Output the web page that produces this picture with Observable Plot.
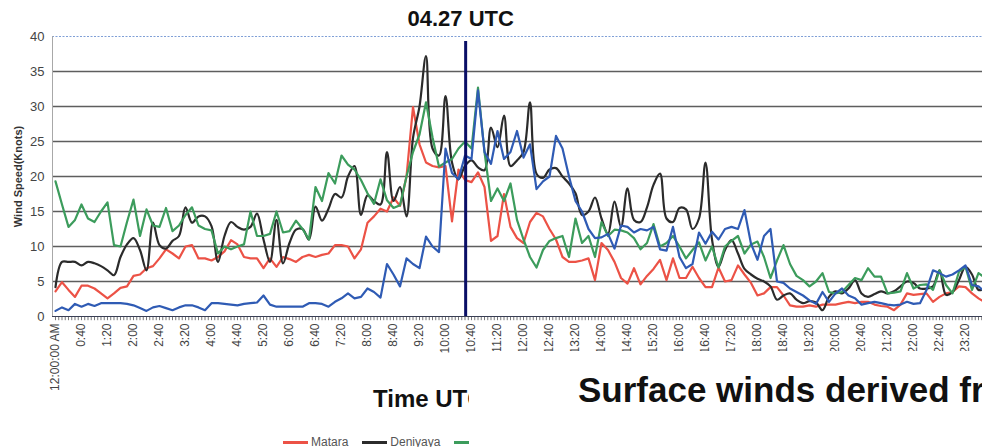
<!DOCTYPE html>
<html><head><meta charset="utf-8">
<script src="https://cdn.jsdelivr.net/npm/d3@7"></script>
<script src="https://cdn.jsdelivr.net/npm/@observablehq/plot@0.6"></script>
<style>
body{margin:0;background:#fff;overflow:hidden;}
#wrap{position:relative;width:982px;height:447px;overflow:hidden;background:#fff;font-family:"Liberation Sans",Arial,sans-serif;}
#chart{position:absolute;left:0;top:0;}
#chart g[aria-label="y-axis label"] text{font-weight:bold;font-size:11px;fill:#333;}
#chart g[aria-label="y-axis tick label"] text{font-size:13px;}
#xtitle{position:absolute;left:373px;top:387px;font-size:24px;line-height:24px;font-weight:bold;color:#111;white-space:nowrap;}
#legend{position:absolute;left:283px;top:435px;font-size:12px;line-height:14px;color:#555;white-space:nowrap;}
#legend span.sw{display:inline-block;width:25px;height:3px;vertical-align:middle;margin-right:3px;}
#legend span.it{margin-right:14px;}
#mask{position:absolute;left:469px;top:351px;width:520px;height:100px;background:#fff;}
#caption{position:absolute;left:578px;top:372px;font-size:35px;line-height:35px;font-weight:bold;color:#111;white-space:nowrap;}
</style></head><body>
<div id="wrap">
  <div id="chart"></div>
  <div id="xtitle">Time UTC</div>
  <div id="legend"></div>
  <div id="mask"></div>
  <div id="caption">Surface winds derived fr</div>
</div>
<script>
// x-axis category labels (every 40 minutes)
const tickLabels = ["12:00:00 AM","0:40","1:20","2:00","2:40","3:20","4:00","4:40","5:20","6:00","6:40","7:20","8:00","8:40","9:20","10:00","10:40","11:20","12:00","12:40","13:20","14:00","14:40","15:20","16:00","16:40","17:20","18:00","18:40","19:20","20:00","20:40","21:20","22:00","22:40","23:20"];
const seriesNames = ["Matara","Deniyaya","Station 3","Station 4"];
const seriesColors = ["#ec5246","#2b2b2b","#3c9c5c","#2f5bb4"];
// wind speed (knots), 10-minute samples from 00:00
const matara = [3.6,4.9,3.8,2.8,4.4,4.4,4.0,3.3,2.6,3.3,
 4.1,4.3,5.8,6.0,6.9,7.2,8.3,9.6,9.0,8.3,
 10.0,10.2,8.3,8.3,8.0,8.5,9.3,10.9,10.3,8.5,
 8.3,8.3,6.9,8.3,7.1,8.5,8.2,7.8,8.5,8.8,
 8.5,8.8,9.0,10.2,10.2,10.0,8.3,9.6,13.4,14.3,
 15.4,15.0,17.0,15.8,20.0,29.9,24.6,22.0,21.5,21.3,
 21.5,13.6,21.0,19.5,19.2,20.6,18.5,10.8,11.5,17.5,
 12.8,11.2,10.5,13.5,14.8,14.3,12.5,11.0,8.5,7.8,
 7.8,8.0,8.3,5.2,10.5,9.5,7.8,5.5,4.7,6.9,
 4.6,5.8,6.8,8.1,5.2,8.3,5.5,5.5,7.1,5.5,
 4.2,4.2,7.0,5.0,5.2,7.3,6.0,4.8,3.0,3.3,
 4.2,4.2,3.0,1.6,1.4,1.4,1.6,1.4,1.7,1.7,
 1.7,1.9,2.1,1.9,2.1,2.1,1.7,1.5,1.4,0.9,
 1.7,3.3,3.1,3.2,3.3,2.1,2.8,3.3,3.5,4.3,
 4.2,3.3,2.6,2.0];
const deniyaya = [4.2,7.8,7.8,7.8,7.3,7.8,7.6,7.2,6.6,5.9,
 8.5,10.3,11.2,9.5,6.6,13.4,10.2,9.7,10.8,11.5,
 15.6,13.4,14.3,14.3,12.9,7.8,11.5,13.5,12.8,12.4,
 12.8,14.7,11.0,7.8,13.8,7.6,10.5,12.4,12.5,11.0,
 15.7,13.7,15.4,17.5,17.0,20.0,21.5,14.5,17.3,16.5,
 16.0,23.5,16.5,18.5,14.3,25.5,30.0,37.2,24.0,23.0,
 31.5,22.0,19.6,21.5,22.3,21.3,20.9,27.0,24.2,28.7,
 21.5,22.3,23.5,30.6,20.4,19.8,21.0,21.2,20.0,19.0,
 17.6,14.5,15.0,17.0,14.0,11.8,16.4,12.8,18.3,13.8,
 13.5,15.6,18.8,20.4,14.0,13.5,15.5,15.3,12.5,14.0,
 22.0,11.0,7.1,9.5,10.9,9.0,6.8,6.0,5.4,5.0,
 4.3,2.4,3.0,3.3,2.4,1.9,2.2,2.0,0.9,2.8,
 3.6,3.3,4.0,5.2,3.3,2.8,3.2,3.6,3.3,3.6,
 4.3,5.0,4.8,4.0,4.0,4.3,6.6,3.1,3.5,5.2,
 7.1,6.0,3.8,4.0];
const station3 = [19.3,16.0,12.8,13.8,16.0,14.0,13.5,15.0,16.3,10.2,
 10.0,13.5,16.7,11.5,15.3,13.0,12.8,15.5,12.2,13.0,
 14.5,15.6,13.0,12.5,12.3,9.0,10.0,9.6,10.0,10.3,
 15.0,11.5,11.5,11.8,15.0,12.0,12.2,13.7,12.5,11.0,
 18.5,16.5,20.5,19.0,23.0,21.7,21.0,19.5,17.6,16.1,
 19.6,16.6,15.5,15.9,20.0,23.5,26.0,30.6,25.6,21.4,
 22.0,22.5,24.0,25.0,24.0,32.7,23.5,16.5,18.3,16.5,
 19.0,13.8,11.0,8.5,7.0,9.5,10.8,11.2,11.5,8.5,
 14.0,10.5,11.5,8.5,13.5,11.5,12.4,12.3,12.0,11.2,
 9.6,10.5,13.2,10.0,10.5,11.5,10.0,8.3,9.5,10.6,
 8.0,10.0,7.0,10.0,10.8,11.5,9.0,10.3,10.7,8.5,
 5.5,8.0,10.2,7.5,5.8,5.2,4.3,5.0,6.2,3.5,
 3.3,3.5,4.5,5.5,5.2,6.9,5.7,5.7,3.3,3.4,
 3.6,6.2,4.0,4.5,4.6,3.8,6.6,4.5,3.3,6.4,
 7.1,3.8,6.2,5.5];
const station4 = [0.8,1.3,0.9,1.8,1.4,1.8,1.5,1.9,1.9,1.9,
 1.9,1.8,1.6,1.2,0.8,1.3,1.5,1.2,0.9,1.3,
 1.6,1.6,1.3,0.9,1.9,1.9,1.8,1.7,1.6,1.8,
 1.9,2.0,3.0,1.7,1.4,1.4,1.4,1.4,1.4,1.9,
 1.9,1.8,1.4,2.1,2.6,3.3,2.6,2.8,4.0,3.5,
 2.7,7.5,6.0,4.3,8.3,7.5,6.9,11.4,10.0,9.2,
 24.0,20.5,19.6,23.0,22.5,32.3,23.5,21.8,26.5,22.5,
 23.5,26.5,22.7,24.6,18.2,19.3,20.0,25.8,24.0,20.0,
 16.5,15.0,12.5,11.2,11.3,11.8,9.7,13.0,12.8,12.0,
 12.5,12.3,12.8,9.6,9.4,12.8,8.5,6.9,7.5,12.0,
 10.4,12.1,11.0,12.5,12.8,12.5,15.2,10.4,8.1,11.5,
 12.5,5.0,4.8,4.0,3.5,3.0,2.3,1.8,3.5,2.1,
 3.3,4.0,3.0,2.6,1.7,1.9,2.1,1.9,1.7,1.6,
 1.7,2.1,1.8,1.9,3.8,6.6,6.2,5.7,6.0,6.6,
 7.3,4.5,4.3,3.5];
const yTicks = [0,5,10,15,20,25,30,35,40];
const gridValues = [5,10,15,20,25,30,35];
const eventMinute = 631;
const eventLabel = "04.27 UTC";

const series = [matara, deniyaya, station3, station4];
const minutes = d3.range(0, 1440, 10);
const rows = series.map((vals, s) => vals.map((v, i) => ({t: minutes[i], v, s: seriesNames[s]})));

const xDomain = [-4.615, 1426.15];
const labelTicks = tickLabels.map((_, i) => i * 40);
const minorTicks = d3.range(0, 1426, 5);

const chart = Plot.plot({
  width: 982, height: 410,
  marginLeft: 52, marginRight: 0, marginTop: 36, marginBottom: 94,
  x: {domain: xDomain},
  y: {domain: [0, 40]},
  style: {fontFamily: "Liberation Sans, Arial, sans-serif", fontSize: "12px", color: "#444", background: "transparent", overflow: "visible"},
  marks: [
    Plot.ruleY(gridValues, {stroke: "#5e5e5e", strokeWidth: 1.5}),
    Plot.ruleY([40], {stroke: "#7f9fd6", strokeWidth: 1, strokeDasharray: "2,1.5"}),
    Plot.ruleX([xDomain[0]], {y1: 0, y2: 40, stroke: "#a8a8a8", strokeWidth: 1}),
    Plot.axisY({ticks: yTicks, tickSize: 0, tickPadding: 8, tickFormat: d => String(d),
      label: "Wind Speed(Knots)", labelAnchor: "center", labelArrow: "none", labelOffset: 38}),
    Plot.ruleX(minorTicks, {x: d => d, y1: 0, y2: -0.6, stroke: "#777", strokeWidth: 1}),
    Plot.axisX({ticks: labelTicks, tickSize: 0, tickPadding: 7, tickRotate: -90,
      tickFormat: d => tickLabels[Math.round(d / 40)], label: null}),
    Plot.ruleY([0], {stroke: "#3a3f55", strokeWidth: 1.2}),
    ...rows.map((r, s) => Plot.line(r, {x: "t", y: "v", stroke: seriesColors[s], strokeWidth: 2.2,
      curve: s === 1 ? "catmull-rom" : "linear", clip: true})),
    Plot.ruleX([eventMinute], {y1: 0, y2: 39.3, stroke: "#0a0f66", strokeWidth: 3}),
    Plot.text([eventLabel], {x: () => eventMinute, text: d => d, frameAnchor: "top", dy: -26, dx: -5,
      fontSize: 22, fontWeight: "bold", fill: "#111"})
  ]
});
document.getElementById("chart").appendChild(chart);

const legend = document.getElementById("legend");
legend.innerHTML =
  `<span class="it"><span class="sw" style="background:${seriesColors[0]}"></span>${seriesNames[0]}</span>` +
  `<span class="it"><span class="sw" style="background:${seriesColors[1]}"></span>${seriesNames[1]}</span>` +
  `<span class="sw" style="background:${seriesColors[2]}"></span>`;
</script>
</body></html>
